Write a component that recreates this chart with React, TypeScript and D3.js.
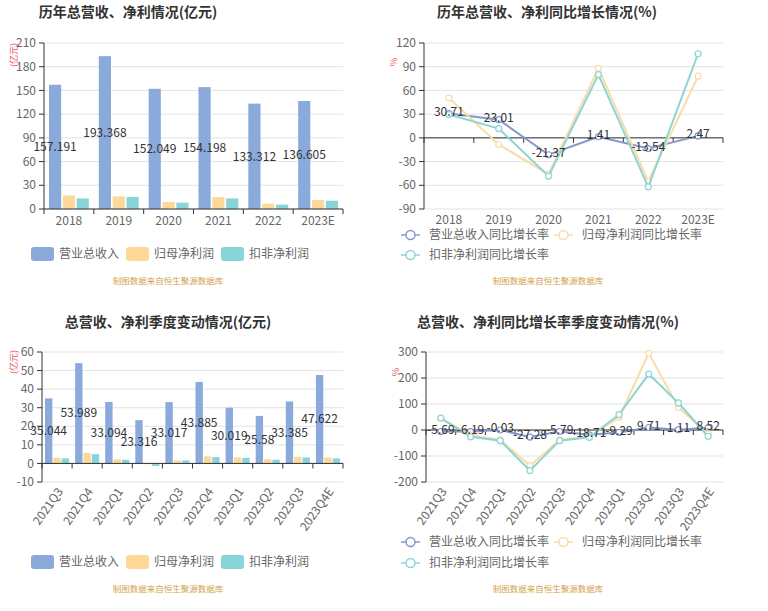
import * as d3 from 'd3';
import React from 'react';

const years = ['2018', '2019', '2020', '2021', '2022', '2023E'];
const annualRevenue = [157.191, 193.368, 152.049, 154.198, 133.312, 136.605];
const annualNetProfit = [17.2, 16.0, 8.8, 15.1, 6.7, 11.3];
const annualDeductedProfit = [13.4, 15.1, 8.0, 13.4, 5.5, 10.5];
const annualRevenueGrowth = [30.71, 23.01, -21.37, 1.41, -13.54, 2.47];
const annualNetProfitGrowth = [50.5, -8.4, -46, 88, -55, 78];
const annualDeductedGrowth = [29.5, 11.8, -48.4, 80, -62, 106.4];

const quarters = ['2021Q3', '2021Q4', '2022Q1', '2022Q2', '2022Q3', '2022Q4', '2023Q1', '2023Q2', '2023Q3', '2023Q4E'];
const quarterRevenue = [35.044, 53.989, 33.094, 23.316, 33.017, 43.885, 30.019, 25.58, 33.385, 47.622];
const quarterNetProfit = [3.05, 5.7, 2.2, -0.4, 1.6, 3.8, 3.2, 2.2, 3.6, 3.2];
const quarterDeductedProfit = [2.7, 5.0, 2.0, -1.4, 1.6, 3.4, 3.0, 2.0, 3.2, 2.7];
const quarterRevenueGrowth = [-5.69, -6.19, -0.03, -27.28, -5.79, -18.71, -9.29, 9.71, 1.11, 8.52];
const quarterNetProfitGrowth = [45, -19, -38, -137, -38, -26, 49, 295, 87, -15];
const quarterDeductedGrowth = [46, -26, -41, -156, -41, -28, 59, 215, 104, -24];

const amountTicks = [0, 30, 60, 90, 120, 150, 180, 210];
const annualGrowthTicks = [-90, -60, -30, 0, 30, 60, 90, 120];
const quarterAmountTicks = [-10, 0, 10, 20, 30, 40, 50, 60];
const quarterGrowthTicks = [-200, -100, 0, 100, 200, 300];

const barNames = ['营业总收入', '归母净利润', '扣非净利润'];
const lineNames = ['营业总收入同比增长率', '归母净利润同比增长率', '扣非净利润同比增长率'];
const barColors = ['#8aaadc', '#fdd898', '#88d4d9'];
const lineColors = ['#8797cc', '#fbdba6', '#8cd5d2'];

const FONT = '"Noto Sans CJK SC", "Noto Sans", sans-serif';
const SOURCE = '制图数据来自恒生聚源数据库';

type Grid = { left: number; right: number; top: number; bottom: number };

function YAxis({ y, ticks, grid }: { y: d3.ScaleLinear<number, number>; ticks: number[]; grid: Grid }) {
  return (
    <g>
      {ticks.map(t => (
        <g key={t}>
          <line x1={grid.left} x2={grid.right} y1={y(t)} y2={y(t)} stroke="#e3e3e3" />
          <line x1={grid.left - 5} x2={grid.left} y1={y(t)} y2={y(t)} stroke="#333" />
          <text x={grid.left - 8} y={y(t)} dy="0.35em" textAnchor="end" fontSize={12} fill="#666">
            {t}
          </text>
        </g>
      ))}
      <line x1={grid.left} x2={grid.left} y1={grid.top} y2={grid.bottom} stroke="#333" />
    </g>
  );
}

function XAxis({
  x,
  cats,
  axisY,
  labelY,
  rotate,
}: {
  x: d3.ScaleBand<string>;
  cats: string[];
  axisY: number;
  labelY: number;
  rotate?: boolean;
}) {
  const [r0, r1] = x.range();
  const bw = x.bandwidth();
  return (
    <g>
      <line x1={r0} x2={r1} y1={axisY} y2={axisY} stroke="#333" />
      {d3.range(cats.length + 1).map(i => (
        <line key={i} x1={r0 + i * bw} x2={r0 + i * bw} y1={axisY} y2={axisY + 5} stroke="#333" />
      ))}
      {cats.map(c => {
        const cx = (x(c) as number) + bw / 2;
        return rotate ? (
          <text
            key={c}
            transform={`translate(${cx + 3},${labelY}) rotate(-55)`}
            textAnchor="end"
            dy="0.35em"
            fontSize={12}
            fill="#666"
          >
            {c}
          </text>
        ) : (
          <text key={c} x={cx} y={labelY} dy="0.35em" textAnchor="middle" fontSize={12} fill="#666">
            {c}
          </text>
        );
      })}
    </g>
  );
}

function Title({ x, y, text }: { x: number; y: number; text: string }) {
  return (
    <text x={x} y={y} dy="0.35em" textAnchor="middle" fontSize={14} fontWeight="bold" fill="#333">
      {text}
    </text>
  );
}

function AxisName({ x, y, text }: { x: number; y: number; text: string }) {
  return (
    <text transform={`translate(${x},${y}) rotate(-90)`} textAnchor="middle" dy="0.35em" fontSize={9} fill="#e8595e">
      {text}
    </text>
  );
}

function Source({ x, y }: { x: number; y: number }) {
  return (
    <text x={x} y={y} dy="0.35em" textAnchor="middle" fontSize={8.5} fill="#d2a24c">
      {SOURCE}
    </text>
  );
}

function BarPanel({
  title,
  titleX,
  titleY,
  grid,
  cats,
  series,
  ticks,
  rotate,
  labelY,
  legendY,
  sourceY,
  nameY,
}: {
  title: string;
  titleX: number;
  titleY: number;
  grid: Grid;
  cats: string[];
  series: number[][];
  ticks: number[];
  rotate?: boolean;
  labelY: number;
  legendY: number;
  sourceY: number;
  nameY: number;
}) {
  const x = d3.scaleBand<string>().domain(cats).range([grid.left, grid.right]);
  const bw = x.bandwidth();
  const inner = d3
    .scaleBand<number>()
    .domain([0, 1, 2])
    .range([bw * 0.1, bw * 0.9])
    .paddingInner(0.12);
  const y = d3
    .scaleLinear()
    .domain([ticks[0], ticks[ticks.length - 1]])
    .range([grid.bottom, grid.top]);
  const legendX = [31, 126, 221];
  return (
    <g>
      <Title x={titleX} y={titleY} text={title} />
      <AxisName x={14} y={nameY} text="(亿元)" />
      <YAxis y={y} ticks={ticks} grid={grid} />
      {series.map((vals, si) =>
        vals.map((v, i) => (
          <rect
            key={`${si}-${i}`}
            x={(x(cats[i]) as number) + (inner(si) as number)}
            width={inner.bandwidth()}
            y={Math.min(y(v), y(0))}
            height={Math.abs(y(v) - y(0))}
            fill={barColors[si]}
          />
        ))
      )}
      <XAxis x={x} cats={cats} axisY={y(0)} labelY={labelY} rotate={rotate} />
      {series[0].map((v, i) => (
        <text
          key={i}
          x={(x(cats[i]) as number) + (inner(0) as number) + inner.bandwidth() / 2}
          y={(y(v) + y(0)) / 2}
          dy="0.35em"
          textAnchor="middle"
          fontSize={12}
          fill="#333"
        >
          {v}
        </text>
      ))}
      {barNames.map((n, i) => (
        <g key={n}>
          <rect x={legendX[i]} y={legendY - 7} width={23} height={14} rx={3} fill={barColors[i]} />
          <text x={legendX[i] + 28} y={legendY} dy="0.35em" fontSize={12} fill="#666">
            {n}
          </text>
        </g>
      ))}
      <Source x={168} y={sourceY} />
    </g>
  );
}

function LinePanel({
  title,
  titleX,
  titleY,
  grid,
  cats,
  series,
  ticks,
  rotate,
  labelY,
  legendY,
  sourceY,
  nameY,
}: {
  title: string;
  titleX: number;
  titleY: number;
  grid: Grid;
  cats: string[];
  series: number[][];
  ticks: number[];
  rotate?: boolean;
  labelY: number;
  legendY: number[];
  sourceY: number;
  nameY: number;
}) {
  const x = d3.scaleBand<string>().domain(cats).range([grid.left, grid.right]);
  const bw = x.bandwidth();
  const y = d3
    .scaleLinear()
    .domain([ticks[0], ticks[ticks.length - 1]])
    .range([grid.bottom, grid.top]);
  const px = (i: number) => (x(cats[i]) as number) + bw / 2;
  const line = d3
    .line<number>()
    .x((d, i) => px(i))
    .y(d => y(d));
  const legendPos = [
    [401, legendY[0]],
    [554, legendY[0]],
    [401, legendY[1]],
  ];
  return (
    <g>
      <Title x={titleX} y={titleY} text={title} />
      <AxisName x={grid.left - 30} y={nameY} text="%" />
      <YAxis y={y} ticks={ticks} grid={grid} />
      <XAxis x={x} cats={cats} axisY={y(0)} labelY={labelY} rotate={rotate} />
      {series.map((vals, si) => (
        <g key={si}>
          <path d={line(vals) as string} fill="none" stroke={lineColors[si]} strokeWidth={2} />
          {vals.map((v, i) => (
            <circle key={i} cx={px(i)} cy={y(v)} r={3} fill="#fff" stroke={lineColors[si]} strokeWidth={1.2} />
          ))}
        </g>
      ))}
      {series[0].map((v, i) => (
        <text key={i} x={px(i)} y={y(v) - 2} dy="0.35em" textAnchor="middle" fontSize={12} fill="#333">
          {v}
        </text>
      ))}
      {lineNames.map((n, i) => {
        const [lx, ly] = legendPos[i];
        return (
          <g key={n}>
            <line x1={lx} x2={lx + 19} y1={ly} y2={ly} stroke={lineColors[i]} strokeWidth={1.5} />
            <circle cx={lx + 9.5} cy={ly} r={4.5} fill="#fff" stroke={lineColors[i]} strokeWidth={1.5} />
            <text x={lx + 28} y={ly} dy="0.35em" fontSize={12} fill="#666">
              {n}
            </text>
          </g>
        );
      })}
      <Source x={548} y={sourceY} />
    </g>
  );
}

export default function App() {
  return (
    <svg
      width={768}
      height={611}
      style={{ position: 'absolute', left: 0, top: 0, background: '#fff', fontFamily: FONT }}
    >
      <BarPanel
        title="历年总营收、净利情况(亿元)"
        titleX={128}
        titleY={12}
        grid={{ left: 44, right: 343, top: 43, bottom: 209 }}
        cats={years}
        series={[annualRevenue, annualNetProfit, annualDeductedProfit]}
        ticks={amountTicks}
        labelY={221}
        legendY={254}
        sourceY={281}
        nameY={55}
      />
      <LinePanel
        title="历年总营收、净利同比增长情况(%)"
        titleX={547}
        titleY={12}
        grid={{ left: 424, right: 723, top: 43, bottom: 209 }}
        cats={years}
        series={[annualRevenueGrowth, annualNetProfitGrowth, annualDeductedGrowth]}
        ticks={annualGrowthTicks}
        labelY={220}
        legendY={[235, 255]}
        sourceY={281}
        nameY={62}
      />
      <BarPanel
        title="总营收、净利季度变动情况(亿元)"
        titleX={168}
        titleY={322}
        grid={{ left: 42, right: 343, top: 352, bottom: 482 }}
        cats={quarters}
        series={[quarterRevenue, quarterNetProfit, quarterDeductedProfit]}
        ticks={quarterAmountTicks}
        rotate
        labelY={489}
        legendY={562}
        sourceY={589}
        nameY={362}
      />
      <LinePanel
        title="总营收、净利同比增长率季度变动情况(%)"
        titleX={548}
        titleY={322}
        grid={{ left: 426, right: 723, top: 352, bottom: 482 }}
        cats={quarters}
        series={[quarterRevenueGrowth, quarterNetProfitGrowth, quarterDeductedGrowth]}
        ticks={quarterGrowthTicks}
        rotate
        labelY={489}
        legendY={[542, 563]}
        sourceY={589}
        nameY={372}
      />
    </svg>
  );
}
